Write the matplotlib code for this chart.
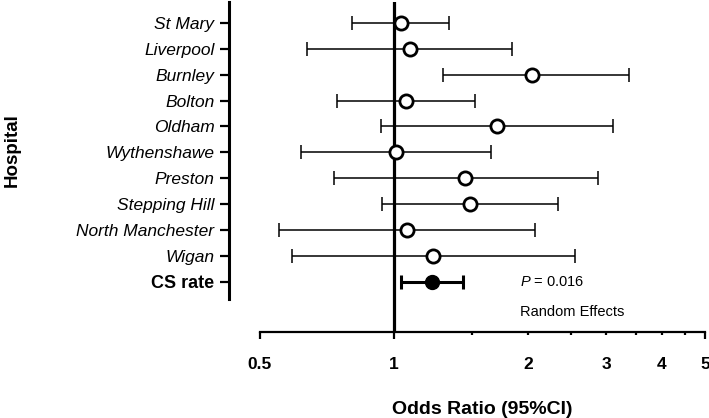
import matplotlib
matplotlib.use("Agg")
import matplotlib.pyplot as plt
from matplotlib import font_manager as fm
from matplotlib.ticker import FixedLocator, FuncFormatter

plt.rcParams['font.family'] = ['Liberation Sans', 'DejaVu Sans']
plt.rcParams['mathtext.fontset'] = 'custom'
plt.rcParams['mathtext.it'] = 'Liberation Sans:italic'
plt.rcParams['mathtext.rm'] = 'Liberation Sans'


def italic_family():
    # pick the first installed family that really has an italic face
    for fam in ['Liberation Sans', 'Arimo', 'Roboto', 'Noto Sans', 'Open Sans', 'Lato', 'DejaVu Sans']:
        try:
            path = fm.findfont(fm.FontProperties(family=fam, style='italic'),
                               fallback_to_default=False)
        except Exception:
            continue
        low = path.lower()
        if 'italic' in low or 'oblique' in low:
            return fam
    return 'DejaVu Sans'


# data
hospitals = ["St Mary", "Liverpool", "Burnley", "Bolton", "Oldham", "Wythenshawe",
             "Preston", "Stepping Hill", "North Manchester", "Wigan"]
odds = [1.035, 1.087, 2.04, 1.064, 1.708, 1.01, 1.446, 1.482, 1.069, 1.226]
lower = [0.806, 0.638, 1.289, 0.746, 0.933, 0.619, 0.732, 0.940, 0.551, 0.590]
upper = [1.332, 1.845, 3.37, 1.518, 3.11, 1.65, 2.87, 2.337, 2.07, 2.556]

pooled_label = "CS rate"
pooled_or = 1.218
pooled_lo = 1.035
pooled_hi = 1.427

major_ticks = [0.5, 1, 5]
minor_ticks = [1.5, 2, 2.5, 3, 3.5, 4, 4.5]
minor_labelled = [2, 3, 4]

fig = plt.figure(figsize=(7.09, 4.18), dpi=100)
ax = fig.add_axes([260/709, 86/418, 445/709, 330/418])
ax.set_xscale('log')

ypos = list(range(len(hospitals)))
err_lo = [o - l for o, l in zip(odds, lower)]
err_hi = [u - o for o, u in zip(odds, upper)]

ax.axvline(1, color='black', lw=2.3, zorder=2)

ax.errorbar(odds, ypos, xerr=[err_lo, err_hi], fmt='none', ecolor='black',
            elinewidth=1.1, capsize=5, capthick=1.1, zorder=3)
ax.plot(odds, ypos, 'o', ms=9.5, mfc='white', mec='black', mew=2.0, zorder=4)

py = len(hospitals)
ax.errorbar([pooled_or], [py], xerr=[[pooled_or - pooled_lo], [pooled_hi - pooled_or]],
            fmt='none', ecolor='black', elinewidth=2.2, capsize=5, capthick=2.2, zorder=3)
ax.plot([pooled_or], [py], 'o', ms=10, mfc='black', mec='black', zorder=4)

ax.set_xlim(0.5, 5)
ax.set_ylim(11.93, -0.80)

ax.xaxis.set_major_locator(FixedLocator(major_ticks))
ax.xaxis.set_major_formatter(FuncFormatter(lambda v, p: f"{v:g}"))
ax.xaxis.set_minor_locator(FixedLocator(minor_ticks))
ax.xaxis.set_minor_formatter(FuncFormatter(lambda v, p: f"{v:g}" if v in minor_labelled else ""))

ax.tick_params(axis='x', which='major', length=5, width=1.6, pad=13, labelsize=12.5)
ax.tick_params(axis='x', which='minor', length=2.3, width=1.6, pad=15.7, labelsize=12.5)
ax.tick_params(axis='y', length=6.5, width=1.6, pad=4, labelsize=12.5)

ax.set_yticks(ypos + [py])
ax.set_yticklabels(hospitals + [pooled_label])

for s in ['top', 'right']:
    ax.spines[s].set_visible(False)
ax.spines['left'].set_position(('outward', 22.3))
ax.spines['left'].set_linewidth(2.2)
ax.spines['left'].set_bounds(-0.80, 10.66)
ax.spines['bottom'].set_linewidth(1.6)

ax.text(1.92, py, r'$\mathit{P}$ = 0.016', fontsize=10.5, va='center', ha='left')
ax.text(1.92, 11.16, 'Random Effects', fontsize=10.5, va='center', ha='left')

ax.set_xlabel('Odds Ratio (95%CI)', fontsize=14, fontweight='bold', va='center')
ax.xaxis.set_label_coords(0.5, -0.235)
ax.set_ylabel('Hospital', fontsize=13.5, fontweight='bold', va='center', ha='center')
ax.yaxis.set_label_coords(-0.5575, 0.5515)

fig.canvas.draw()
for lab in ax.get_xticklabels(which='both'):
    lab.set_fontweight('bold')
ital = fm.FontProperties(family=italic_family(), style='italic', size=12.5)
ticks = ax.yaxis.get_major_ticks()
for t in ticks[:-1]:
    t.label1.set_fontproperties(ital)
last = ticks[-1].label1
last.set_fontweight('bold')
last.set_fontsize(13)

fig.savefig('out.png', dpi=100)
